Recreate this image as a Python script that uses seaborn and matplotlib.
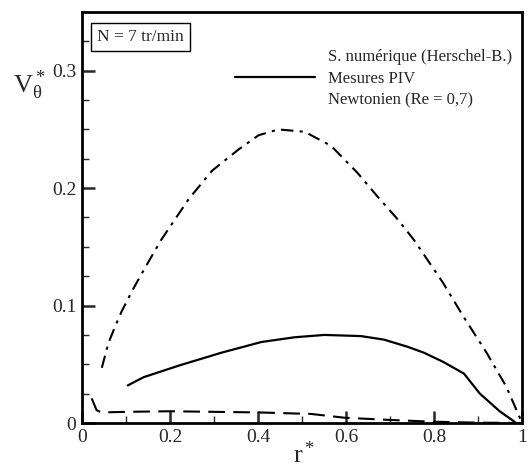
import numpy as np
import pandas as pd
import matplotlib
matplotlib.use('Agg')
import matplotlib.pyplot as plt
import seaborn as sns
from matplotlib.lines import Line2D
from matplotlib.ticker import MultipleLocator

# curves
r_num = [0.022, 0.033, 0.044, 0.1, 0.198, 0.3, 0.401, 0.521, 0.596, 0.70, 0.797, 0.9, 1.0]
v_num = [0.021, 0.011, 0.009, 0.0095, 0.010, 0.0095, 0.009, 0.0077, 0.0045, 0.0026, 0.0011, 0.0003, 0.0]

r_piv = [0.104, 0.14, 0.221, 0.318, 0.408, 0.483, 0.551, 0.634, 0.686, 0.739, 0.776, 0.821, 0.868, 0.904, 0.949, 0.983]
v_piv = [0.032, 0.039, 0.049, 0.060, 0.069, 0.073, 0.075, 0.074, 0.071, 0.065, 0.060, 0.052, 0.042, 0.025, 0.010, 0.001]

r_newt = [0.045, 0.06, 0.075, 0.09, 0.116, 0.146, 0.18, 0.243, 0.296, 0.356, 0.401, 0.446,
          0.506, 0.566, 0.626, 0.671, 0.716, 0.754, 0.821, 0.866, 0.919, 0.964, 1.0]
v_newt = [0.047, 0.068, 0.082, 0.095, 0.114, 0.134, 0.156, 0.191, 0.215, 0.233, 0.245, 0.250,
          0.248, 0.236, 0.213, 0.193, 0.174, 0.156, 0.119, 0.091, 0.060, 0.031, 0.0]

labels = ['S. numérique (Herschel-B.)', 'Mesures PIV', 'Newtonien (Re = 0,7)']

sns.set_style('ticks')
plt.rcParams['font.family'] = ['Liberation Serif', 'DejaVu Serif']
plt.rcParams['mathtext.fontset'] = 'custom'
plt.rcParams['mathtext.rm'] = 'Liberation Serif'
plt.rcParams['mathtext.it'] = 'Liberation Serif'

fig = plt.figure(figsize=(5.29, 4.70), dpi=100)
ax = fig.add_axes([0.155, 0.1, 0.832, 0.8745])

df_num = pd.DataFrame({'r': r_num, 'v': v_num})
df_piv = pd.DataFrame({'r': r_piv, 'v': v_piv})
df_newt = pd.DataFrame({'r': r_newt, 'v': v_newt})

sns.lineplot(data=df_num, x='r', y='v', ax=ax, color='black', lw=1.5, sort=False, estimator=None,
             dashes=False, linestyle=(0, (8, 4)))
sns.lineplot(data=df_piv, x='r', y='v', ax=ax, color='black', lw=1.6, sort=False, estimator=None)
sns.lineplot(data=df_newt, x='r', y='v', ax=ax, color='black', lw=1.5, sort=False, estimator=None,
             dashes=False, linestyle=(0, (6, 3, 1.5, 3)))

ax.set_xlim(0, 1)
ax.set_ylim(0, 0.35)
ax.xaxis.set_major_locator(MultipleLocator(0.2))
ax.xaxis.set_minor_locator(MultipleLocator(0.1))
ax.yaxis.set_major_locator(MultipleLocator(0.1))
ax.yaxis.set_minor_locator(MultipleLocator(0.025))
ax.set_xticks([0, 0.2, 0.4, 0.6, 0.8, 1])
ax.set_xticklabels(['0', '0.2', '0.4', '0.6', '0.8', '1'])
ax.set_yticks([0, 0.1, 0.2, 0.3])
ax.set_yticklabels(['0', '0.1', '0.2', '0.3'])
ax.tick_params(which='major', direction='in', length=9, width=1.8, labelsize=14, pad=4)
ax.tick_params(which='minor', direction='in', length=5, width=1.0)
for s in ax.spines.values():
    s.set_linewidth(2)
    s.set_color('black')

ax.set_xlabel('')
ax.set_ylabel('')
fig.text(0.575, 0.005, r'r$^*$', fontsize=19, ha='center', va='bottom')
fig.text(0.055, 0.82, r'V$_\theta^*$', fontsize=19, ha='center', va='center')

ax.text(0.035, 0.94, 'N = 7 tr/min', transform=ax.transAxes, fontsize=12.5, ha='left', va='center',
        bbox=dict(boxstyle='square,pad=0.35', fc='white', ec='black', lw=1))

handles = [Line2D([], [], color='black', linestyle='none'),
           Line2D([], [], color='black', lw=1.6),
           Line2D([], [], color='black', linestyle='none')]
leg = ax.legend(handles, labels, loc='upper right', bbox_to_anchor=(1.0, 0.935), frameon=False,
                fontsize=12, handlelength=4.8, handletextpad=0.8, labelspacing=0.35,
                borderaxespad=0.2)

fig.savefig('out.png', dpi=100)
